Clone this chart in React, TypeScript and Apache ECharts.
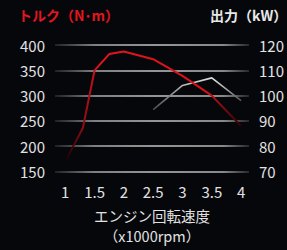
import React, { useEffect, useRef } from "react";
import * as echarts from "echarts";

const rpmTicks = [1, 1.5, 2, 2.5, 3, 3.5, 4];
const torqueRpm = [1.0, 1.3, 1.5, 1.75, 2.0, 2.5, 3.0, 3.5, 4.0];
const torque = [170, 236, 350, 382, 387, 372, 339, 300, 240];
const powerRpm = [2.5, 3.0, 3.5, 4.0];
const power = [94.5, 104, 107, 98];

const FONT = "'Noto Sans CJK JP', 'Noto Sans', sans-serif";

export default function App() {
  const ref = useRef<HTMLDivElement>(null);
  useEffect(() => {
    document.body.style.margin = "0";
    const chart = echarts.init(ref.current!, null, { renderer: "svg" });
    const gridGrad = new echarts.graphic.LinearGradient(
      55,
      0,
      253,
      0,
      [
        { offset: 0, color: "#2a2a2c" },
        { offset: 0.2, color: "#a8a8a8" },
        { offset: 0.5, color: "#c4c4c4" },
        { offset: 0.85, color: "#b4b4b4" },
        { offset: 1, color: "#1e1e20" },
      ],
      true
    );
    const redGrad = new echarts.graphic.LinearGradient(0, 0, 1, 0, [
      { offset: 0, color: "#100204" },
      { offset: 0.1, color: "#8a0c14" },
      { offset: 0.2, color: "#e3141e" },
      { offset: 0.8, color: "#d4121b" },
      { offset: 1, color: "#2a0306" },
    ]);
    const greyGrad = new echarts.graphic.LinearGradient(0, 0, 1, 0, [
      { offset: 0, color: "#4a4a4a" },
      { offset: 0.35, color: "#b8b8b8" },
      { offset: 0.7, color: "#dcdcdc" },
      { offset: 1, color: "#555555" },
    ]);
    chart.setOption({
      animation: false,
      backgroundColor: "#06070b",
      textStyle: { fontFamily: FONT },
      grid: { left: 55, right: 34, top: 45, bottom: 72.5, containLabel: false },
      xAxis: {
        type: "value",
        min: 0.825,
        max: 4.135,
        axisLine: { show: false },
        axisTick: { show: false },
        splitLine: { show: false },
        axisLabel: {
          customValues: rpmTicks,
          color: "#e2e2e2",
          fontSize: 15,
          margin: 12,
          fontFamily: FONT,
        },
        name: "エンジン回転速度\n（x1000rpm）",
        nameLocation: "middle",
        nameGap: 33.5,
        nameTextStyle: {
          color: "#e2e2e2",
          fontSize: 14.5,
          lineHeight: 20,
          fontFamily: FONT,
          verticalAlign: "top",
        },
      },
      yAxis: [
        {
          type: "value",
          min: 150,
          max: 400,
          interval: 50,
          axisLine: { show: false },
          axisTick: { show: false },
          axisLabel: { color: "#e2e2e2", fontSize: 15, margin: 10, fontFamily: FONT },
          splitLine: { show: true, lineStyle: { color: gridGrad, width: 1.5 } },
        },
        {
          type: "value",
          min: 70,
          max: 120,
          interval: 10,
          position: "right",
          axisLine: { show: false },
          axisTick: { show: false },
          axisLabel: { color: "#e2e2e2", fontSize: 15, margin: 10, fontFamily: FONT },
          splitLine: { show: false },
        },
      ],
      graphic: [
        {
          type: "text",
          left: 18,
          top: 8,
          style: {
            text: "トルク（N･m）",
            fill: "#e3161e",
            font: `bold 14px ${FONT}`,
          },
        },
        {
          type: "text",
          left: 210,
          top: 8,
          style: {
            text: "出力（kW）",
            fill: "#e8e8e8",
            font: `bold 14px ${FONT}`,
          },
        },
      ],
      series: [
        {
          type: "line",
          name: "トルク",
          yAxisIndex: 0,
          data: torqueRpm.map((x, i) => [x, torque[i]]),
          showSymbol: false,
          symbol: "none",
          lineStyle: { color: redGrad, width: 2 },
          z: 3,
        },
        {
          type: "line",
          name: "出力",
          yAxisIndex: 1,
          data: powerRpm.map((x, i) => [x, power[i]]),
          showSymbol: false,
          symbol: "none",
          lineStyle: { color: greyGrad, width: 1.6 },
          z: 2,
        },
      ],
    });
    return () => chart.dispose();
  }, []);
  return (
    <div
      ref={ref}
      style={{ position: "fixed", left: 0, top: 0, width: 287, height: 250 }}
    />
  );
}
